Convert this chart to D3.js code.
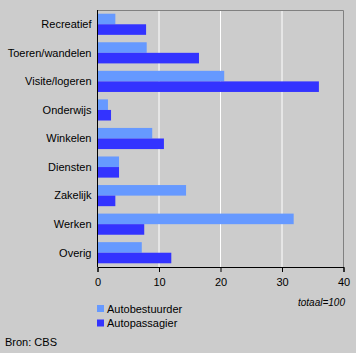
<!DOCTYPE html>
<html>
<head>
<meta charset="utf-8">
<script src="https://cdn.jsdelivr.net/npm/d3@7"></script>
<style>
  body { margin: 0; background: #cccccc; }
  svg { display: block; font-family: Arial, "Liberation Sans", sans-serif; }
</style>
</head>
<body>
<svg></svg>
<script>
const categories = ['Recreatief', 'Toeren/wandelen', 'Visite/logeren', 'Onderwijs', 'Winkelen',
    'Diensten', 'Zakelijk', 'Werken', 'Overig']
const seriesNames = ['Autobestuurder', 'Autopassagier']
const bestuurder = [2.9, 8.0, 20.6, 1.7, 8.9, 3.5, 14.4, 31.9, 7.2]
const passagier = [7.9, 16.5, 36.0, 2.2, 10.8, 3.5, 2.9, 7.6, 12.0]
const xTicks = [0, 10, 20, 30, 40]

const colors = ['#6699ff', '#3333ff']

const svgWidth = 356
const svgHeight = 353
const margin = { top: 10, right: 13, bottom: 86, left: 97.5 }

const svg = d3.select('svg')
    .attr('width', svgWidth)
    .attr('height', svgHeight)

svg.append('rect')
    .attr('width', svgWidth)
    .attr('height', svgHeight)
    .attr('fill', '#cccccc')

const plotBottom = svgHeight - margin.bottom

const x = d3.scaleLinear()
    .domain([0, 40])
    .range([margin.left, 343.5])

const y = d3.scaleBand()
    .domain(categories)
    .range([margin.top, plotBottom])
    .paddingInner(0.26)
    .paddingOuter(0.13)

const ySub = d3.scaleBand()
    .domain(seriesNames)
    .range([0, y.bandwidth()])

// gridlines
svg.selectAll('.grid')
    .data(xTicks.slice(1, -1))
    .join('line')
    .attr('x1', d => x(d))
    .attr('x2', d => x(d))
    .attr('y1', margin.top)
    .attr('y2', plotBottom)
    .attr('stroke', 'white')
    .attr('stroke-width', 1)

// top and right frame
svg.append('path')
    .attr('d', `M${x(0)},${margin.top + 0.5}H${x(40)}V${plotBottom}`)
    .attr('fill', 'none')
    .attr('stroke', '#808080')
    .attr('stroke-width', 1)

const data = categories.map((c, i) => ({ cat: c, values: [bestuurder[i], passagier[i]] }))

const groups = svg.selectAll('.group')
    .data(data)
    .join('g')
    .attr('transform', d => `translate(0,${y(d.cat)})`)

groups.selectAll('rect')
    .data(d => d.values.map((v, j) => ({ name: seriesNames[j], value: v, idx: j })))
    .join('rect')
    .attr('x', x(0))
    .attr('y', d => ySub(d.name))
    .attr('width', d => x(d.value) - x(0))
    .attr('height', ySub.bandwidth())
    .attr('fill', d => colors[d.idx])

// category labels
svg.selectAll('.catLabel')
    .data(categories)
    .join('text')
    .attr('x', margin.left - 6)
    .attr('y', d => y(d) + y.bandwidth() / 2)
    .attr('dy', '0.35em')
    .attr('text-anchor', 'end')
    .attr('font-size', '11px')
    .attr('fill', 'black')
    .text(d => d)

// left axis line
svg.append('line')
    .attr('x1', x(0))
    .attr('x2', x(0))
    .attr('y1', margin.top)
    .attr('y2', plotBottom)
    .attr('stroke', 'black')
    .attr('stroke-width', 1)

// bottom axis
const xAxis = svg.append('g')
    .attr('transform', `translate(0,${plotBottom})`)
    .call(d3.axisBottom(x).tickValues(xTicks).tickSizeOuter(0).tickSize(5).tickPadding(6))

xAxis.select('.domain').attr('stroke', 'black')
xAxis.selectAll('line').attr('stroke', 'black')
xAxis.selectAll('text')
    .attr('font-size', '11px')
    .attr('font-family', 'Arial, "Liberation Sans", sans-serif')
    .attr('fill', 'black')

// totaal note
svg.append('text')
    .attr('x', 345)
    .attr('y', 306)
    .attr('text-anchor', 'end')
    .attr('font-size', '10px')
    .attr('font-style', 'italic')
    .text('totaal=100')

// legend
const legend = svg.selectAll('.legend')
    .data(seriesNames)
    .join('g')
    .attr('transform', (d, i) => `translate(97,${305 + i * 14.5})`)

legend.append('rect')
    .attr('width', 7)
    .attr('height', 7)
    .attr('fill', (d, i) => colors[i])

legend.append('text')
    .attr('x', 10)
    .attr('y', 4)
    .attr('dy', '0.35em')
    .attr('font-size', '11px')
    .text(d => d)

svg.append('text')
    .attr('x', 5)
    .attr('y', 346)
    .attr('font-size', '11px')
    .text('Bron: CBS')
</script>
</body>
</html>
